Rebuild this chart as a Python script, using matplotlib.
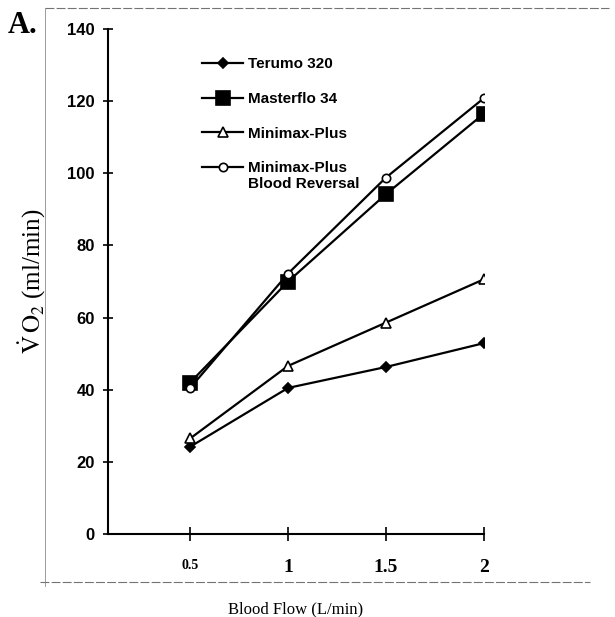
import matplotlib
matplotlib.use("Agg")
import matplotlib.pyplot as plt
from matplotlib.lines import Line2D

plt.rcParams["mathtext.fontset"] = "stix"

flow = [0.5, 1.0, 1.5, 2.0]
terumo = [24.2, 40.5, 46.3, 52.9]
masterflo = [42.0, 70.0, 94.2, 116.5]
minimax = [26.5, 46.6, 58.6, 70.6]
minimax_rev = [40.5, 72.2, 98.8, 120.8]
x_ticklabels = ["0.5", "1", "1.5", "2"]
y_ticks = [0, 20, 40, 60, 80, 100, 120, 140]

series = [
    ("Terumo 320", terumo, dict(marker="D", ms=5, mfc="black")),
    ("Masterflo 34", masterflo, dict(marker="s", ms=10, mfc="black")),
    ("Minimax-Plus", minimax, dict(marker="^", ms=7, mfc="white")),
    ("Minimax-Plus", minimax_rev, dict(marker="o", ms=6, mfc="white")),
]

fig = plt.figure(figsize=(6.15, 6.17), dpi=100)
ax = fig.add_axes([0.1756, 0.1345, 0.611, 0.8185])

for label, vals, style in series:
    ax.plot(flow, vals, color="black", lw=1.6, mec="black", mew=1.2, **style)

ax.set_xlim(0.08, 2.0)
ax.set_ylim(0, 140)
for s in ("top", "right"):
    ax.spines[s].set_visible(False)
for s in ("left", "bottom"):
    ax.spines[s].set_linewidth(1.5)

ax.set_yticks(y_ticks)
ax.set_yticklabels([str(v) for v in y_ticks], family="Liberation Sans",
                   fontsize=12, fontweight="bold")
ax.tick_params(axis="y", direction="inout", length=7, width=1.2, pad=6)
ax.set_xticks(flow)
ax.set_xticklabels(x_ticklabels, family="Liberation Serif", fontweight="bold",
                   fontsize=14)
ax.get_xticklabels()[0].set_fontsize(10)
ax.tick_params(axis="x", direction="inout", length=10, width=1.2, pad=13)

ax.set_xlabel("Blood Flow (L/min)", family="Liberation Serif", fontsize=12,
              labelpad=18)
ax.set_ylabel(r"$\dot{\mathrm{V}}\,\mathrm{O}_2$ (ml/min)",
              family="Liberation Serif", fontsize=18, labelpad=14)

handles = [Line2D([0], [0], color="black", lw=1.6, mec="black", mew=1.2, **st)
           for _, _, st in series]
leg = ax.legend(handles, [s[0] for s in series], loc="upper left",
                bbox_to_anchor=(0.25, 0.944), frameon=False, borderpad=0,
                borderaxespad=0, handlelength=2.7, handletextpad=0.3,
                labelspacing=1.35,
                prop=dict(family="Liberation Sans", size=11, weight="bold"))

# second line of the last legend label, placed under its first line
fig.canvas.draw()
bb = leg.get_texts()[-1].get_window_extent().transformed(fig.transFigure.inverted())
fig.text(bb.x0, bb.y0 - 0.003, "Blood Reversal", family="Liberation Sans",
         fontsize=11, fontweight="bold", va="top")

fig.text(0.012, 0.958, "A.", family="Liberation Serif", fontsize=22,
         fontweight="bold", va="center")

# scanned frame
fig.add_artist(Line2D([0.073, 0.99], [0.987, 0.987], color="0.45", lw=0.8,
                      ls=(0, (8, 2))))
fig.add_artist(Line2D([0.073, 0.073], [0.987, 0.05], color="0.55", lw=0.6))
fig.add_artist(Line2D([0.065, 0.96], [0.056, 0.056], color="0.45", lw=0.8,
                      ls=(0, (8, 2))))

fig.savefig("out.png", dpi=100)
